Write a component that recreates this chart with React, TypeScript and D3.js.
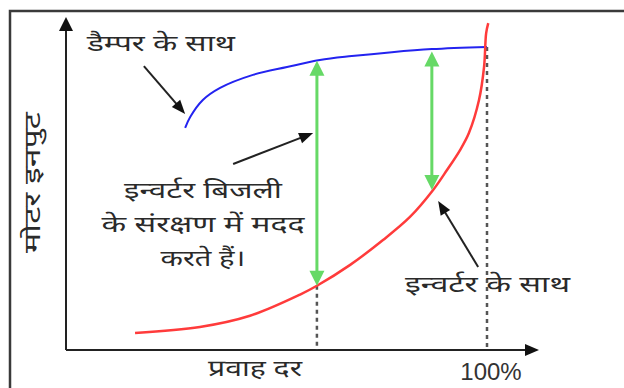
import React from "react";
import * as d3 from "d3";

// flow rate (fraction of 100%) vs motor input (fraction of full input)
const damperFlow = [0.283, 0.295, 0.325, 0.366, 0.444, 0.525, 0.603, 0.679, 0.774, 0.869, 1.0];
const damperInput = [0.733, 0.769, 0.825, 0.865, 0.908, 0.934, 0.957, 0.97, 0.983, 0.993, 1.0];

const inverterFlow = [0.164, 0.318, 0.437, 0.556, 0.596, 0.675, 0.753, 0.817, 0.872, 0.905, 0.936, 0.957, 0.981, 0.993, 0.998, 1.003];
const inverterInput = [0.056, 0.076, 0.113, 0.183, 0.212, 0.281, 0.363, 0.439, 0.528, 0.594, 0.66, 0.716, 0.825, 0.934, 1.046, 1.079];

// savings arrows between the two curves
const savingFlow = [0.596, 0.869];
const savingTop = [0.955, 0.985];
const savingBottom = [0.212, 0.528];

// dashed drop lines
const dropFlow = [0.596, 1.0];
const dropTop = [0.212, 1.0];

// callout arrows [tailFlow, tailInput, tipFlow, tipInput]
const callouts = [
  [0.185, 0.937, 0.283, 0.779],
  [0.397, 0.614, 0.587, 0.716],
  [0.979, 0.274, 0.884, 0.492],
];

const labelDamper = "डैम्पर के साथ";
const labelSaving = ["इन्वर्टर बिजली", "के संरक्षण में मदद", "करते हैं।"];
const labelInverter = "इन्वर्टर के साथ";
const labelX = "प्रवाह दर";
const labelY = "मोटर इनपुट";
const tick100 = "100%";

const W = 624;
const H = 388;
const deva = "'Noto Sans Devanagari', 'Noto Sans', 'Lohit Devanagari', 'FreeSans', sans-serif";

const head = (x1: number, y1: number, x2: number, y2: number, len: number, half: number) => {
  const a = Math.atan2(y2 - y1, x2 - x1);
  const bx = x2 - len * Math.cos(a);
  const by = y2 - len * Math.sin(a);
  const px = -Math.sin(a) * half;
  const py = Math.cos(a) * half;
  return `${x2},${y2} ${bx + px},${by + py} ${bx - px},${by - py}`;
};

export default function App() {
  const x = d3.scaleLinear().domain([0, 1]).range([66, 487]);
  const y = d3.scaleLinear().domain([0, 1]).range([350, 47]);

  const line = d3
    .line<[number, number]>()
    .x((d) => x(d[0]))
    .y((d) => y(d[1]))
    .curve(d3.curveCatmullRom.alpha(0.5));

  const damper = damperFlow.map((f, i) => [f, damperInput[i]] as [number, number]);
  const inverter = inverterFlow.map((f, i) => [f, inverterInput[i]] as [number, number]);

  const ax0 = x(0);
  const ay0 = y(0);

  const stretch = { lengthAdjust: "spacingAndGlyphs" } as const;

  return (
    <div style={{ position: "fixed", left: 0, top: 0, background: "#fff" }}>
      <svg width={W} height={H}>
        <rect x={0} y={0} width={W} height={H} fill="#fff" />
        {/* outer frame, cut off at right and bottom */}
        <rect x={10} y={11} width={W + 20} height={H + 20} fill="none" stroke="#3a3a3a" strokeWidth={2.5} />

        {/* axes */}
        <line x1={ax0} x2={ax0} y1={ay0} y2={28} stroke="#222" strokeWidth={2} />
        <polygon points={head(ax0, ay0, ax0, 17, 14, 7)} fill="#111" />
        <line x1={ax0} x2={527} y1={ay0} y2={ay0} stroke="#222" strokeWidth={2} />
        <polygon points={head(ax0, ay0, 539, ay0, 14, 6)} fill="#111" />

        {/* dashed drop lines */}
        {dropFlow.map((f, i) => (
          <line
            key={i}
            x1={x(f)}
            x2={x(f)}
            y1={y(dropTop[i])}
            y2={ay0}
            stroke="#555"
            strokeWidth={2.5}
            strokeDasharray="4,4"
          />
        ))}

        {/* curves */}
        <path d={line(damper) ?? ""} fill="none" stroke="#2323f0" strokeWidth={2} />
        <path d={line(inverter) ?? ""} fill="none" stroke="#ff3b3b" strokeWidth={2.5} />

        {/* savings arrows */}
        {savingFlow.map((f, i) => {
          const xx = x(f);
          const t = y(savingTop[i]);
          const b = y(savingBottom[i]);
          return (
            <g key={i}>
              <line x1={xx} x2={xx} y1={t + 12} y2={b - 12} stroke="#66d966" strokeWidth={3} />
              <polygon points={head(xx, b, xx, t, 15, 7.5)} fill="#66d966" />
              <polygon points={head(xx, t, xx, b, 15, 7.5)} fill="#66d966" />
            </g>
          );
        })}

        {/* callout arrows */}
        {callouts.map(([f1, v1, f2, v2], i) => {
          const x1 = x(f1);
          const y1 = y(v1);
          const x2 = x(f2);
          const y2 = y(v2);
          const a = Math.atan2(y2 - y1, x2 - x1);
          return (
            <g key={i}>
              <line
                x1={x1}
                y1={y1}
                x2={x2 - 10 * Math.cos(a)}
                y2={y2 - 10 * Math.sin(a)}
                stroke="#222"
                strokeWidth={2}
              />
              <polygon points={head(x1, y1, x2, y2, 14, 5.5)} fill="#111" />
            </g>
          );
        })}

        {/* labels */}
        <g fontFamily={deva} fontSize={23} fill="#2a2a2a">
          <text x={87} y={51} textLength={148} {...stretch}>{labelDamper}</text>
          {labelSaving.map((s, i) => {
            const widths = [158, 203, 85];
            return (
              <text
                key={i}
                x={203 - widths[i] / 2}
                y={198 + i * 34}
                textLength={widths[i]}
                {...stretch}
              >
                {s}
              </text>
            );
          })}
          <text x={405} y={292} textLength={165} {...stretch}>{labelInverter}</text>
          <text x={208} y={376} textLength={94} {...stretch}>{labelX}</text>
          <text transform="translate(40,253) rotate(-90)" textLength={141} {...stretch}>
            {labelY}
          </text>
        </g>
        <text
          x={491}
          y={380}
          textAnchor="middle"
          fontFamily="'Liberation Sans', Arial, sans-serif"
          fontSize={24}
          fill="#333"
        >
          {tick100}
        </text>
      </svg>
    </div>
  );
}
